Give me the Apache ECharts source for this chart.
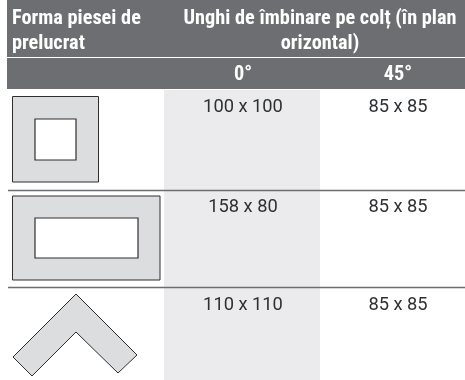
<!DOCTYPE html>
<html><head><meta charset="utf-8">
<style>html,body{margin:0;padding:0;background:#fff}#c{width:465px;height:380px}</style>
<script src="https://cdn.jsdelivr.net/npm/echarts@6/dist/echarts.min.js"></script>
</head><body><div id="c"></div>
<script>
const headerLeft = ["Forma piesei de", "prelucrat"];
const headerRight = ["Unghi de îmbinare pe colț (în plan", "orizontal)"];
const angles = ["0°", "45°"];
const values0 = ["100 x 100", "158 x 80", "110 x 110"];
const values45 = ["85 x 85", "85 x 85", "85 x 85"];

const DARK = "#6d6e71", LIGHT = "#ebebed", SHAPE = "#dcddde", LINE = "#6d6e71", INK = "#2e3033", STROKE = "#2f2f31";
const HEAD = '"Liberation Sans Narrow", "Roboto Condensed", Roboto, sans-serif';
const BODY = 'Roboto, "Liberation Sans", sans-serif';
const rowTextY = [107.5, 207.5, 305.5];
const rowLineY = [190.5, 287.5];
const els = [];
const rect = (x, y, w, h, fill) => els.push({type:"rect", shape:{x, y, width:w, height:h}, style:{fill}, silent:true});
const txt = (t, x, y, o) => els.push({type:"text", x, y, silent:true, style:Object.assign({text:t, verticalAlign:"middle"}, o)});
const head = (t, x, y, align) => txt(t, x, y, {align, fill:"#fff", font:'bold 20.3px ' + HEAD});
const body = (t, x, y) => txt(t, x, y, {align:"center", fill:INK, font:'18.3px ' + BODY});
const poly = (points, fill, lw) => els.push({type:"polygon", shape:{points}, style:{fill, stroke:STROKE, lineWidth:lw}, silent:true});

rect(7, 0, 458, 57, DARK);
rect(7, 58, 458, 31, DARK);
rect(164, 90, 156, 290, LIGHT);

head(headerLeft[0], 12, 19, "left");
head(headerLeft[1], 12, 43.5, "left");
head(headerRight[0], 320, 19, "center");
head(headerRight[1], 320, 43.5, "center");
head(angles[0], 243, 74.5, "center");
head(angles[1], 398, 74.5, "center");

rowLineY.forEach(y => rect(8, y - 0.75, 457, 1.5, LINE));
values0.forEach((v, i) => body(v, 243, rowTextY[i]));
values45.forEach((v, i) => body(v, 398, rowTextY[i]));

// workpiece outlines
poly([[12.5,96.5],[98.5,96.5],[98.5,182],[12.5,182]], SHAPE, 1);
poly([[35,119],[76,119],[76,160],[35,160]], "#fff", 1.2);
poly([[12.5,196],[160,196],[160,280],[12.5,280]], SHAPE, 1);
poly([[35,218],[138,218],[138,258],[35,258]], "#fff", 1.2);
poly([[76,294],[137,355],[118,373],[76,332],[32,376],[13,357]], SHAPE, 1);

const chart = echarts.init(document.getElementById("c"), null, {renderer:"canvas"});
chart.setOption({animation:false, backgroundColor:"#fff", graphic:{elements:els}});
</script></body></html>
